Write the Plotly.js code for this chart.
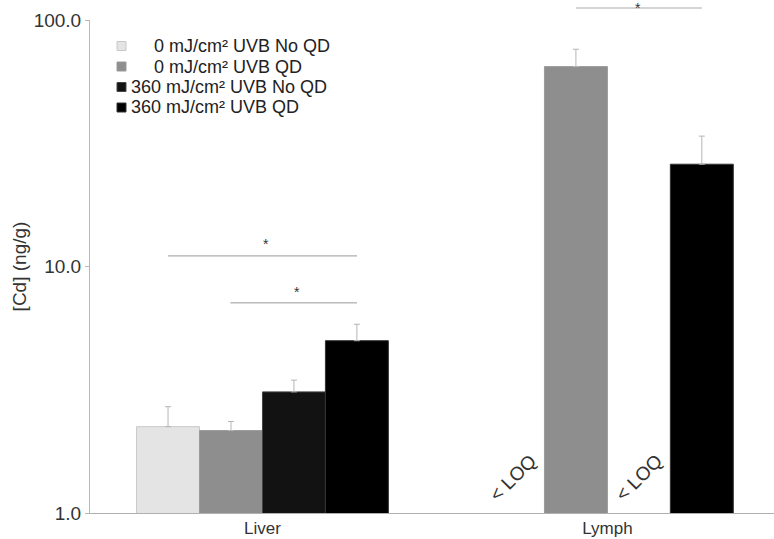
<!DOCTYPE html>
<html>
<head>
<meta charset="utf-8">
<script src="https://cdn.plot.ly/plotly-3.0.1.min.js"></script>
<style>html,body{margin:0;padding:0;background:#fff;}#chart{width:774px;height:539px;}</style>
</head>
<body>
<div id="chart"></div>
<script>
var categories = ['Liver', 'Lymph'];
var seriesNames = ['0 mJ/cm\u00b2 UVB No QD', '0 mJ/cm\u00b2 UVB QD', '360 mJ/cm\u00b2 UVB No QD', '360 mJ/cm\u00b2 UVB QD'];
var uvb0NoQD = [2.24, null];
var uvb0QD = [2.16, 64.7];
var uvb360NoQD = [3.10, null];
var uvb360QD = [5.00, 26.0];
var err0NoQD = [0.46, 0];
var err0QD = [0.19, 11.4];
var err360NoQD = [0.36, 0];
var err360QD = [0.83, 7.8];
var tickVals = [1, 10, 100];
var tickText = ['1.0', '10.0', '100.0'];

var colors = ['#e4e4e4', '#8e8e8e', '#121212', '#000000'];
var lineColors = ['#c8c8c8', '#9a9a9a', '#444444', '#333333'];
var vals = [uvb0NoQD, uvb0QD, uvb360NoQD, uvb360QD];
var errs = [err0NoQD, err0QD, err360NoQD, err360QD];

var traces = vals.map(function(v, i) {
  return {
    type: 'bar',
    name: seriesNames[i],
    x: categories,
    y: v,
    showlegend: false,
    marker: {color: colors[i], line: {color: lineColors[i], width: 1}},
    error_y: {type: 'data', symmetric: false, array: errs[i], arrayminus: errs[i].map(function(){return 0;}),
              color: '#b5b5b5', thickness: 1, width: 3, visible: true}
  };
});

var font = 'Liberation Sans, Arial, sans-serif';
function log(v){ return Math.log10(v); }

// manual legend (plot area: x 90..774 px, y 20..513 px)
function px2x(px){ return (px - 90) / 684; }
function py2y(py){ return (513 - py) / 493; }
var legendRowsY = [46, 66.5, 87, 107.5];
var legendTextX = [152, 152, 129, 129];
var shapes = [
  {type: 'line', xref: 'x', yref: 'y', x0: -0.274, x1: 0.274, y0: 11.04, y1: 11.04, line: {color: '#999', width: 1}},
  {type: 'line', xref: 'x', yref: 'y', x0: -0.093, x1: 0.274, y0: 7.12, y1: 7.12, line: {color: '#999', width: 1}},
  {type: 'line', xref: 'x', yref: 'paper', x0: 0.909, x1: 1.274, y0: py2y(8), y1: py2y(8), line: {color: '#aaa', width: 1}}
];
var annotations = [
  {xref: 'x', yref: 'y', x: 0.01, y: log(12.3), text: '*', showarrow: false, font: {family: font, size: 14, color: '#333'}},
  {xref: 'x', yref: 'y', x: 0.10, y: log(7.9), text: '*', showarrow: false, font: {family: font, size: 14, color: '#333'}},
  {xref: 'x', yref: 'paper', x: 1.09, y: py2y(-2), yanchor: 'top', text: '*', showarrow: false, font: {family: font, size: 14, color: '#333'}},
  {xref: 'x', yref: 'y', x: 0.726, y: 0.146, text: '&lt; LOQ', textangle: -45, showarrow: false, font: {family: font, size: 19, color: '#333'}},
  {xref: 'x', yref: 'y', x: 1.091, y: 0.146, text: '&lt; LOQ', textangle: -45, showarrow: false, font: {family: font, size: 19, color: '#333'}}
];
seriesNames.forEach(function(name, i) {
  var cy = legendRowsY[i];
  shapes.push({type: 'rect', xref: 'paper', yref: 'paper', x0: px2x(117), x1: px2x(126), y0: py2y(cy + 4.5), y1: py2y(cy - 4.5),
               fillcolor: colors[i], line: {color: lineColors[i], width: 1}});
  annotations.push({xref: 'paper', yref: 'paper', x: px2x(legendTextX[i]), y: py2y(cy), xanchor: 'left', yanchor: 'middle',
                    text: name, showarrow: false, font: {family: font, size: 18, color: '#222'}});
});

var layout = {
  width: 774, height: 539,
  margin: {l: 90, r: 0, t: 20, b: 26},
  paper_bgcolor: '#fff', plot_bgcolor: '#fff',
  barmode: 'group', bargap: 0.27, bargroupgap: 0,
  showlegend: false,
  font: {family: font, color: '#333'},
  xaxis: {type: 'category', range: [-0.5, 1.483], showline: true, linecolor: '#b0b0b0', linewidth: 1,
          ticks: '', showgrid: false, zeroline: false, tickfont: {family: font, size: 17, color: '#333'}},
  yaxis: {type: 'log', range: [0, 2], showline: true, linecolor: '#b8b8b8', linewidth: 1,
          tickvals: tickVals, ticktext: tickText, ticks: 'outside', ticklen: 4, tickcolor: '#b8b8b8',
          showgrid: false, zeroline: false, tickfont: {family: font, size: 19, color: '#333'},
          title: {text: '[Cd] (ng/g)', font: {family: font, size: 19, color: '#333'}, standoff: 2}},
  shapes: shapes,
  annotations: annotations
};

Plotly.newPlot('chart', traces, layout, {displayModeBar: false, staticPlot: true});
</script>
</body>
</html>
